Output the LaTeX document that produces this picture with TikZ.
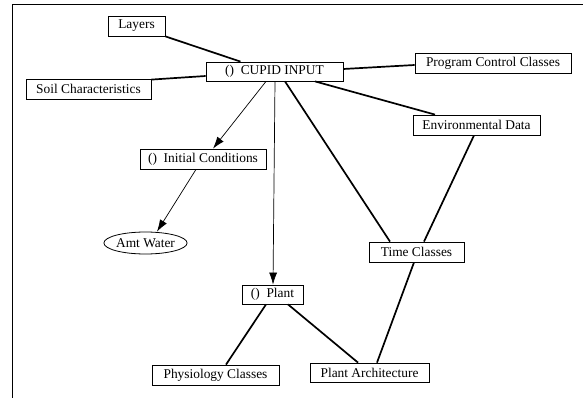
\documentclass[tikz,border=0pt]{standalone}
\usepackage{fontspec}
\setmainfont{Liberation Serif}
\usetikzlibrary{arrows.meta,shapes.geometric,calc}
\begin{document}
\begin{tikzpicture}[x=1pt,y=-1pt,
  cls/.style={draw,line width=0.8pt,rectangle,inner sep=0pt,font=\fontsize{13.4}{15}\selectfont,fill=white},
  oval/.style={draw,line width=0.8pt,ellipse,inner sep=0pt,font=\fontsize{13.4}{15}\selectfont},
  assoc/.style={line width=1.7pt},
  uses/.style={line width=0.7pt,-{Latex[length=12pt,width=8pt]}}]
\useasboundingbox (0,0) rectangle (583,398);
% page frame
\draw[line width=0.8pt] (12,398) -- (12,4) -- (583,4);
% classes
\node[cls,minimum width=57,minimum height=20] (layers) at (136.5,26) {Layers};
\node[cls,minimum width=137,minimum height=19] (cupid) at (274.5,71.5) {()\enspace CUPID INPUT};
\node[cls,minimum width=125,minimum height=20] (soil) at (88.5,89) {Soil Characteristics};
\node[cls,minimum width=156,minimum height=20] (prog) at (493,63) {Program Control Classes};
\node[cls,minimum width=127,minimum height=20] (env) at (476.5,125) {Environmental Data};
\node[cls,minimum width=126,minimum height=20] (init) at (203,159) {()\enspace Initial Conditions};
\node[oval,minimum width=79,minimum height=22] (water) at (145.5,243) {Amt Water};
\node[cls,minimum width=95,minimum height=20] (time) at (416.5,252) {Time Classes};
\node[cls,minimum width=61,minimum height=19] (plant) at (272.5,294.5) {()\enspace Plant};
\node[cls,minimum width=127,minimum height=20] (phys) at (215.5,375) {Physiology Classes};
\node[cls,minimum width=119,minimum height=19] (arch) at (369.5,372.5) {Plant Architecture};
% associations
\draw[assoc] (layers.south east) -- ($(cupid.north)+(-34,0)$);
\draw[assoc] ($(soil.north east)+(0,1)$) -- ($(cupid.west)+(0,4.5)$);
\draw[assoc] ($(cupid.east)+(0,-2.5)$) -- ($(prog.west)+(0,2)$);
\draw[assoc] ($(cupid.south)+(40.5,0)$) -- ($(env.north)+(-41.5,0)$);
\draw[assoc] ($(cupid.south)+(10.5,0)$) -- ($(time.north)+(-26.5,0)$);
\draw[assoc] ($(env.south)+(-2.5,0)$) -- ($(time.north)+(7.5,0)$);
\draw[assoc] ($(time.south)+(-2.5,0)$) -- ($(arch.north)+(7.5,0)$);
\draw[assoc] ($(plant.south)+(-6.5,0)$) -- ($(phys.north)+(10.5,0)$);
\draw[assoc] ($(plant.south)+(15.5,0)$) -- ($(arch.north)+(-11.5,0)$);
% navigations
\draw[uses] ($(cupid.south)+(-8.5,0)$) -- ($(init.north)+(10,0)$);
\draw[uses] ($(cupid.south)+(0.5,0)$) -- ($(plant.north)+(0.5,0)$);
\draw[uses] ($(init.south)+(-7,0)$) -- ($(water.north)+(11.5,0)$);
\end{tikzpicture}
\end{document}
